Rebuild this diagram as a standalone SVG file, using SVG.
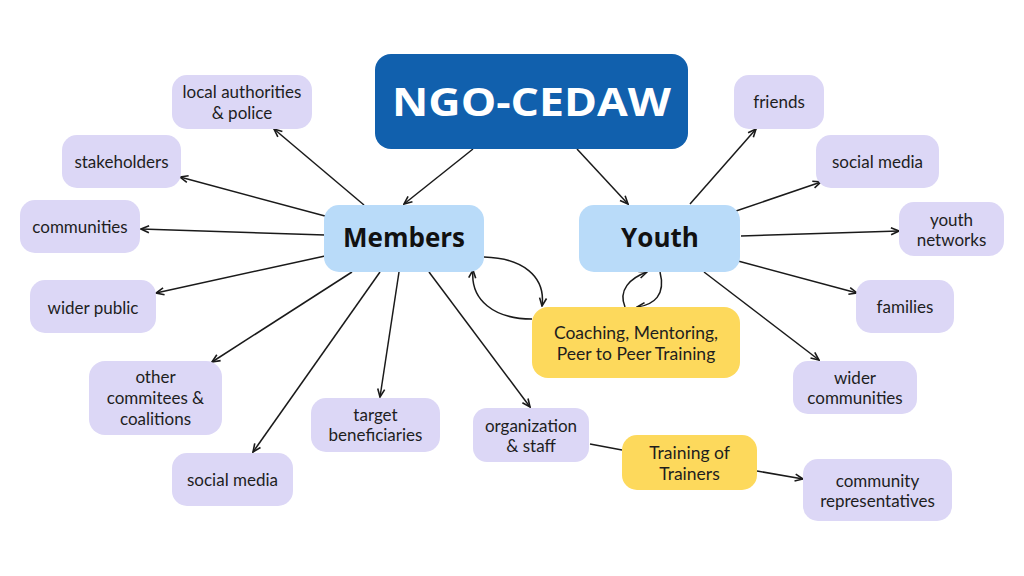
<svg xmlns="http://www.w3.org/2000/svg" width="1024" height="576" viewBox="0 0 1024 576">
<defs>
<marker id="arr" markerUnits="userSpaceOnUse" markerWidth="10" markerHeight="10" viewBox="0 0 10 10" refX="9" refY="5" orient="auto">
<path d="M1,1.5 L9,5 L1,8.5" fill="none" stroke="#1a1a1a" stroke-width="1.6"/>
</marker>
</defs>
<style>
.lav{fill:#dcd7f6}
.blue{fill:#b9dbf9}
.yel{fill:#fdd95c}
.t{font-family:Lato,"Open Sans",sans-serif;font-size:17px;fill:#1e1e1e;text-anchor:middle}
.ty{font-family:Lato,"Open Sans",sans-serif;font-size:17.5px;fill:#1e1e1e;text-anchor:middle}
.h{font-family:"Open Sans","Noto Sans",sans-serif;font-weight:700;font-size:26px;fill:#111;text-anchor:middle}
.c line,.c path{stroke:#1a1a1a;stroke-width:1.5;fill:none}
</style>
<rect width="1024" height="576" fill="#fff"/>
<g class="c" id="connectors">
<line x1="473" y1="149" x2="404" y2="204" marker-end="url(#arr)"/>
<line x1="577" y1="149" x2="628" y2="204" marker-end="url(#arr)"/>
<line x1="364" y1="205" x2="274" y2="129" marker-end="url(#arr)"/>
<line x1="325" y1="216" x2="180" y2="177" marker-end="url(#arr)"/>
<line x1="325" y1="235" x2="141" y2="229" marker-end="url(#arr)"/>
<line x1="325" y1="256" x2="156" y2="293" marker-end="url(#arr)"/>
<line x1="352" y1="272" x2="212" y2="362" marker-end="url(#arr)"/>
<line x1="380" y1="272" x2="253" y2="452" marker-end="url(#arr)"/>
<line x1="399" y1="272" x2="380" y2="397" marker-end="url(#arr)"/>
<line x1="429" y1="272" x2="530" y2="407" marker-end="url(#arr)"/>
<path d="M484,257 C522,258 546,276 542,306" marker-end="url(#arr)"/>
<path d="M532,319 C494,319 470,300 473,270" marker-end="url(#arr)"/>
<path d="M625,307 C618,290 630,278 647,272" marker-end="url(#arr)"/>
<path d="M660,272 C666,295 654,305 637,307" marker-end="url(#arr)"/>
<line x1="690" y1="204" x2="756" y2="129" marker-end="url(#arr)"/>
<line x1="736" y1="211" x2="821" y2="182" marker-end="url(#arr)"/>
<line x1="741" y1="236" x2="899" y2="231" marker-end="url(#arr)"/>
<line x1="738" y1="261" x2="857" y2="293" marker-end="url(#arr)"/>
<line x1="704" y1="272" x2="819" y2="360" marker-end="url(#arr)"/>
<line x1="590" y1="444" x2="622" y2="450"/>
<line x1="757" y1="471" x2="803" y2="479" marker-end="url(#arr)"/>
</g>
<g id="ngo">
<rect x="375" y="54" width="313" height="95" rx="16" fill="#1160ad"/>
<text x="531.5" y="116" font-family="'Open Sans','Noto Sans',sans-serif" font-weight="700" font-size="40" fill="#fff" text-anchor="middle" textLength="279" lengthAdjust="spacingAndGlyphs">NGO-CEDAW</text>
</g>
<g id="members">
<rect x="324" y="205" width="160" height="67" rx="15" class="blue"/>
<text x="404" y="247" class="h">Members</text>
</g>
<g id="youth">
<rect x="579" y="205" width="161" height="67" rx="15" class="blue"/>
<text x="660" y="247" class="h">Youth</text>
</g>
<g id="coaching">
<rect x="532" y="307" width="208" height="71" rx="16" class="yel"/>
<text x="636" y="339" class="ty">Coaching, Mentoring,</text>
<text x="636" y="360" class="ty">Peer to Peer Training</text>
</g>
<g id="tot">
<rect x="622" y="435" width="135" height="55" rx="15" class="yel"/>
<text x="689.5" y="459" class="ty">Training of</text>
<text x="689.5" y="480" class="ty">Trainers</text>
</g>
<g id="org">
<rect x="473" y="408" width="116" height="54" rx="14" class="lav"/>
<text x="531" y="432" class="t">organization</text>
<text x="531" y="452" class="t">&amp; staff</text>
</g>
<g id="commreps">
<rect x="803" y="459" width="149" height="62" rx="15" class="lav"/>
<text x="877.5" y="487" class="t">community</text>
<text x="877.5" y="507" class="t">representatives</text>
</g>
<g id="localauth">
<rect x="172" y="75" width="140" height="54" rx="15" class="lav"/>
<text x="242" y="98" class="t">local authorities</text>
<text x="242" y="119" class="t">&amp; police</text>
</g>
<g id="stakeholders">
<rect x="62" y="135" width="119" height="53" rx="15" class="lav"/>
<text x="121.5" y="168" class="t">stakeholders</text>
</g>
<g id="communities">
<rect x="20" y="200" width="120" height="53" rx="15" class="lav"/>
<text x="80" y="233" class="t">communities</text>
</g>
<g id="widerpublic">
<rect x="30" y="280" width="126" height="53" rx="15" class="lav"/>
<text x="93" y="314" class="t">wider public</text>
</g>
<g id="othercomm">
<rect x="89" y="361" width="133" height="74" rx="16" class="lav"/>
<text x="155.5" y="383" class="t">other</text>
<text x="155.5" y="404" class="t">commitees &amp;</text>
<text x="155.5" y="425" class="t">coalitions</text>
</g>
<g id="socialmedia-l">
<rect x="172" y="453" width="121" height="53" rx="15" class="lav"/>
<text x="232.5" y="486" class="t">social media</text>
</g>
<g id="target">
<rect x="311" y="398" width="129" height="54" rx="15" class="lav"/>
<text x="375.5" y="421" class="t">target</text>
<text x="375.5" y="441" class="t">beneficiaries</text>
</g>
<g id="friends">
<rect x="734" y="75" width="90" height="54" rx="15" class="lav"/>
<text x="779" y="108" class="t">friends</text>
</g>
<g id="socialmedia-r">
<rect x="816" y="135" width="123" height="53" rx="15" class="lav"/>
<text x="877.5" y="168" class="t">social media</text>
</g>
<g id="youthnet">
<rect x="899" y="202" width="105" height="54" rx="15" class="lav"/>
<text x="951.5" y="226" class="t">youth</text>
<text x="951.5" y="246" class="t">networks</text>
</g>
<g id="families">
<rect x="856" y="280" width="98" height="53" rx="15" class="lav"/>
<text x="905" y="313" class="t">families</text>
</g>
<g id="widercomm">
<rect x="793" y="361" width="124" height="53" rx="15" class="lav"/>
<text x="855" y="384" class="t">wider</text>
<text x="855" y="404" class="t">communities</text>
</g>
</svg>
